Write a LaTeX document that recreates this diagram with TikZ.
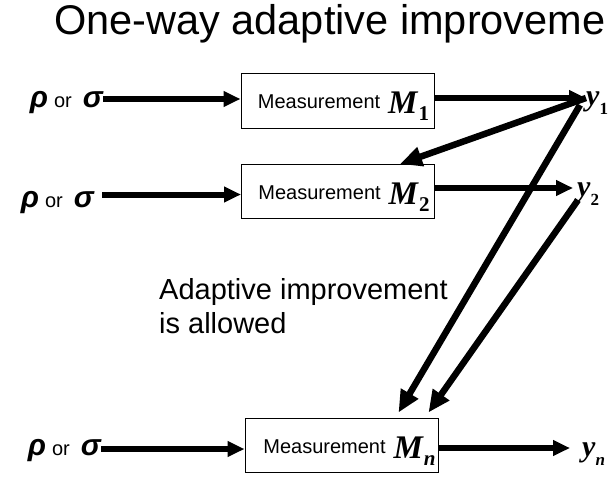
\documentclass[tikz,border=0pt]{standalone}
\usepackage{fontspec}
\setmainfont{Liberation Sans}
\newfontfamily\tms{Liberation Serif}
\usetikzlibrary{arrows.meta}

% symbols set like the slide's equation objects
\newcommand{\Msym}[1]{\raisebox{-5pt}{\fontsize{33}{33}\selectfont\tms\bfseries\itshape M}\hspace{1pt}\raisebox{-12pt}{\fontsize{21}{21}\selectfont\tms\bfseries #1}}
\newcommand{\ysym}[1]{{\fontsize{30}{30}\selectfont\tms\bfseries\itshape y}\raisebox{-9pt}{\fontsize{17}{17}\selectfont\tms\bfseries #1}}
\newcommand{\rhosigma}{{\bfseries\itshape ρ}\hspace{6pt}{\fontsize{20}{20}\selectfont or}\hspace{11pt}{\bfseries\itshape σ}}

\begin{document}
\begin{tikzpicture}[x=1pt,y=-1pt,
  meas/.style={draw,line width=1pt,minimum width=193pt,minimum height=54pt,inner sep=0pt,
    text height=16pt,text depth=0pt,font=\fontsize{20}{24}\selectfont},
  src/.style={anchor=east,inner sep=0pt,text depth=0pt,font=\fontsize{30}{30}\selectfont},
  res/.style={anchor=west,inner sep=0pt,text height=16pt,text depth=0pt},
  flow/.style={line width=6pt,-{Triangle[length=17pt,width=15pt]}},
  adapt/.style={line width=6.5pt,-{Triangle[length=22pt,width=19pt]}}]

\useasboundingbox (0,0) rectangle (615,476);

\node[anchor=base west,inner sep=0pt,font=\fontsize{41.5}{42}\selectfont] (title) at (54,35) {One-way adaptive improveme};

% the three measurements
\node[meas] (m1) at (337.5,101) {\hspace*{12pt}Measurement\hspace{8pt}\Msym{1}};
\node[meas] (m2) at (338,191.5) {\hspace*{12pt}Measurement\hspace{8pt}\Msym{2}};
\node[meas] (mn) at (341.5,445) {\hspace*{16pt}Measurement\hspace{8pt}\Msym{\itshape n}};

\node[src,text height=18pt] (in1) at (103,99) {\rhosigma};
\node[src,text height=25pt] (in2) at (94,194.5) {\rhosigma};
\node[src,text height=12pt] (inn) at (101,449) {\rhosigma};

\node[res] (o1) at (586,98) {\ysym{1}};
\node[res] (o2) at (577,188) {\ysym{2}};
\node[res] (on) at (582,448) {\ysym{\itshape n}};

\draw[flow] (in1.east) -- (in1.east -| m1.west);
\draw[flow] ([xshift=8pt]in2.east) -- (in2.east -| m2.west);
\draw[flow] (inn.east) -- (inn.east -| mn.west);

\draw[flow] (o1.west -| m1.east) -- (o1.west);
\draw[flow,shorten >=4pt] (o2.west -| m2.east) -- (o2.west);
\draw[flow,shorten >=12pt] (on.west -| mn.east) -- (on.west);

% feedback of earlier outcomes
\draw[adapt] (o1.west) -- ([xshift=-35pt]m2.north east);
\draw[adapt] ([xshift=-6pt,yshift=-7pt]o1.west) -- ([xshift=-40pt,yshift=5pt]mn.north east);
\draw[adapt] ([xshift=1pt,yshift=-12pt]o2.west) -- ([xshift=-10pt,yshift=5pt]mn.north east);

\node[anchor=north west,align=left,inner sep=0pt,font=\fontsize{29}{34}\selectfont] (note) at (159,278) {Adaptive improvement\\is allowed};
\end{tikzpicture}
\end{document}
